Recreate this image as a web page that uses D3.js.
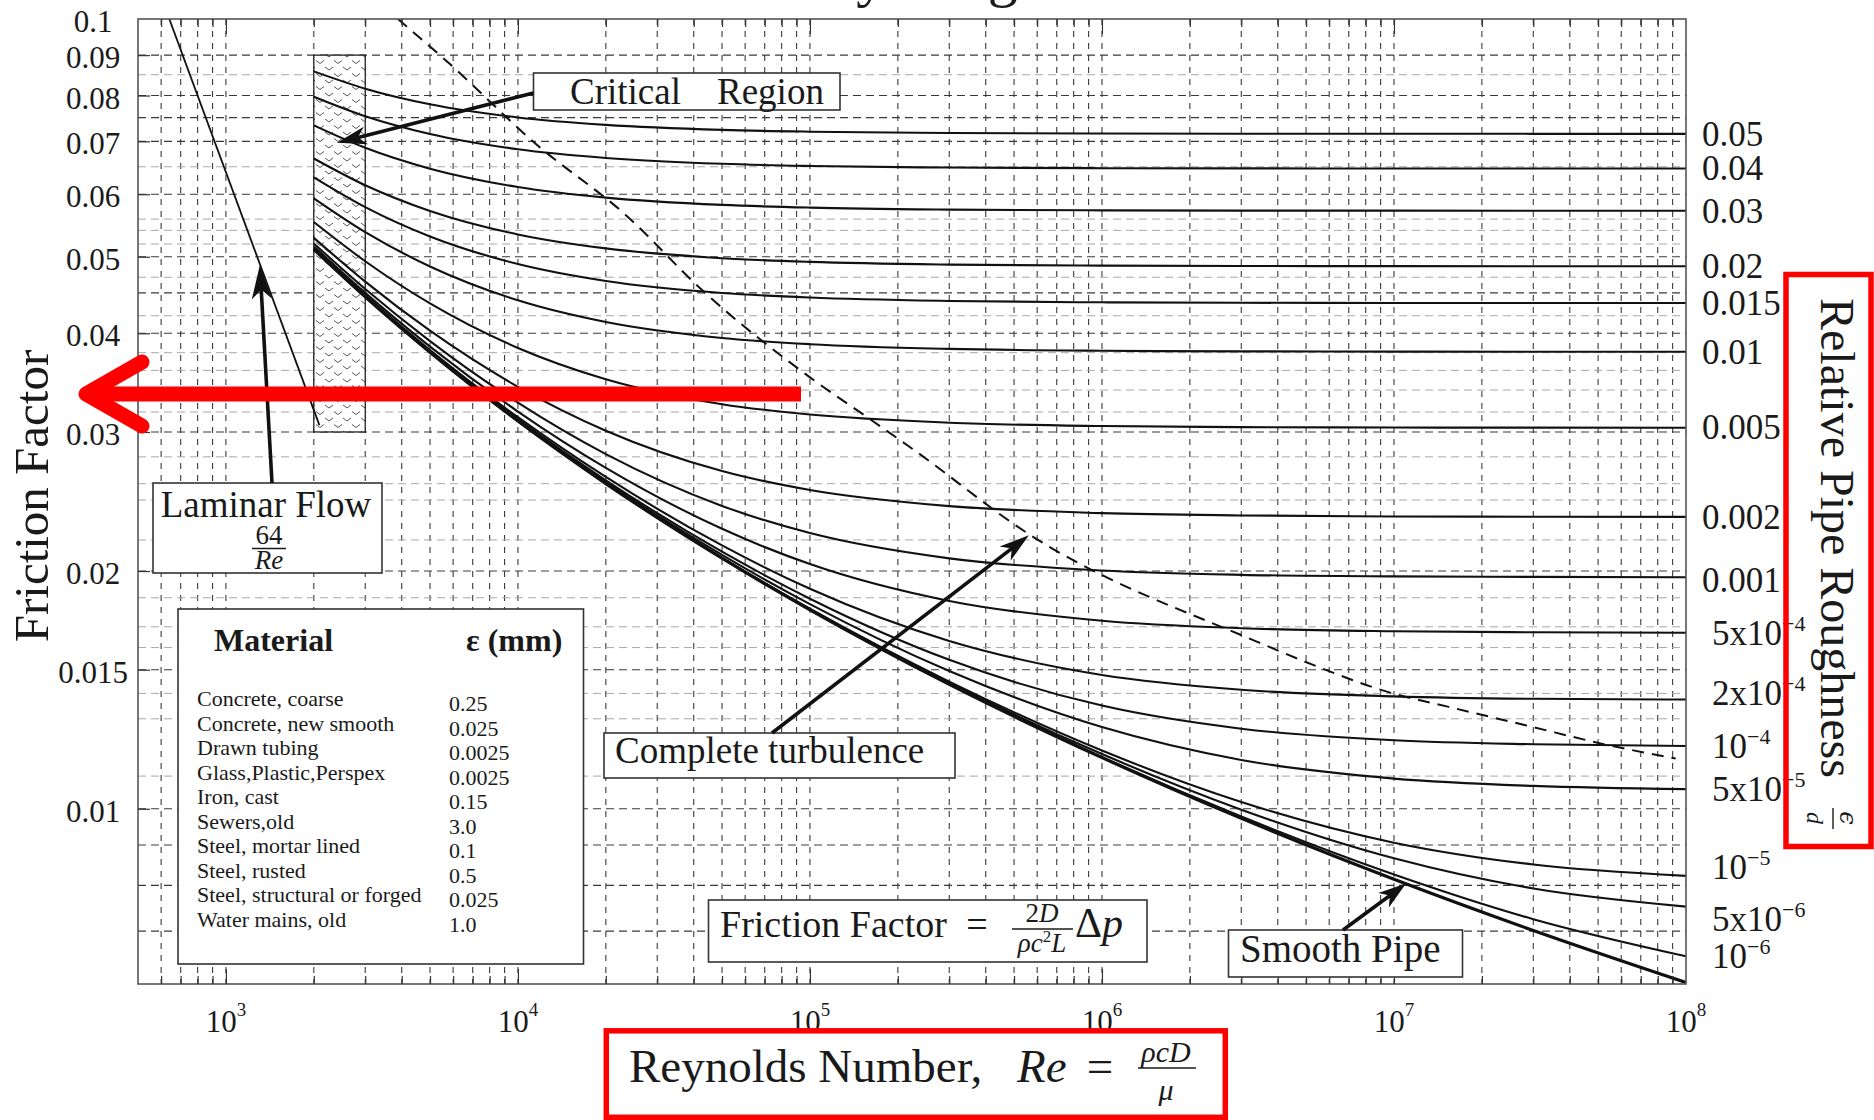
<!DOCTYPE html>
<html>
<head>
<meta charset="utf-8">
<title>Moody Diagram</title>
<script src="https://cdn.jsdelivr.net/npm/d3@7"></script>
<style>
  body { margin: 0; background: #fff; }
  svg text { font-family: "Liberation Serif", "Times New Roman", serif; fill: #1a1a1a; }
</style>
</head>
<body>
<svg id="chart" width="1874" height="1120"></svg>
<script>
"use strict";

const reynolds = [2000, 3000, 5000, 1e4, 2e4, 5e4, 1e5, 3e5, 1e6, 3e6, 1e7, 3e7, 1e8];

// Friction factor for each relative roughness (same order as reynolds)
const f_0_05  = [0.08584, 0.08162, 0.07799, 0.07504, 0.07344, 0.07238, 0.07200, 0.07172, 0.07161, 0.07157, 0.07156, 0.07155, 0.07155];
const f_0_04  = [0.07972, 0.07532, 0.07152, 0.06840, 0.06669, 0.06556, 0.06515, 0.06485, 0.06473, 0.06469, 0.06468, 0.06467, 0.06467];
const f_0_03  = [0.07334, 0.06870, 0.06464, 0.06127, 0.05940, 0.05816, 0.05770, 0.05737, 0.05724, 0.05720, 0.05719, 0.05718, 0.05718];
const f_0_02  = [0.06659, 0.06159, 0.05714, 0.05336, 0.05123, 0.04979, 0.04926, 0.04887, 0.04872, 0.04867, 0.04865, 0.04864, 0.04864];
const f_0_015 = [0.06302, 0.05778, 0.05304, 0.04895, 0.04659, 0.04499, 0.04439, 0.04395, 0.04378, 0.04372, 0.04370, 0.04369, 0.04369];
const f_0_01  = [0.05928, 0.05372, 0.04860, 0.04404, 0.04134, 0.03946, 0.03875, 0.03822, 0.03801, 0.03795, 0.03792, 0.03791, 0.03791];
const f_0_005 = [0.05533, 0.04935, 0.04364, 0.03833, 0.03499, 0.03253, 0.03156, 0.03082, 0.03052, 0.03043, 0.03039, 0.03038, 0.03037];
const f_0_002 = [0.05283, 0.04650, 0.04030, 0.03422, 0.03011, 0.02677, 0.02533, 0.02417, 0.02368, 0.02352, 0.02345, 0.02343, 0.02342];
const f_0_001 = [0.05197, 0.04551, 0.03910, 0.03267, 0.02812, 0.02418, 0.02234, 0.02075, 0.02003, 0.01978, 0.01969, 0.01966, 0.01964];
const f_5e_4  = [0.05154, 0.04500, 0.03848, 0.03184, 0.02702, 0.02262, 0.02041, 0.01833, 0.01730, 0.01693, 0.01678, 0.01673, 0.01671];
const f_2e_4  = [0.05127, 0.04470, 0.03810, 0.03132, 0.02631, 0.02155, 0.01899, 0.01631, 0.01477, 0.01415, 0.01388, 0.01378, 0.01375];
const f_1e_4  = [0.05118, 0.04459, 0.03797, 0.03115, 0.02606, 0.02116, 0.01845, 0.01544, 0.01351, 0.01263, 0.01221, 0.01207, 0.01201];
const f_5e_5  = [0.05114, 0.04454, 0.03791, 0.03106, 0.02594, 0.02096, 0.01816, 0.01494, 0.01269, 0.01153, 0.01092, 0.01069, 0.01059];
const f_1e_5  = [0.05110, 0.04450, 0.03786, 0.03099, 0.02584, 0.02080, 0.01792, 0.01449, 0.01185, 0.01020, 0.009059, 0.008500, 0.008224];
const f_5e_6  = [0.05110, 0.04450, 0.03785, 0.03098, 0.02583, 0.02078, 0.01789, 0.01443, 0.01173, 0.009974, 0.008657, 0.007927, 0.007519];
const f_1e_6  = [0.05109, 0.04449, 0.03785, 0.03097, 0.02582, 0.02076, 0.01787, 0.01439, 0.01163, 0.009776, 0.008258, 0.007249, 0.006506];
const f_smooth = [0.05109, 0.04449, 0.03785, 0.03097, 0.02581, 0.02076, 0.01786, 0.01437, 0.01161, 0.009724, 0.008142, 0.007013, 0.006026];

const frictionCurves = [f_0_05, f_0_04, f_0_03, f_0_02, f_0_015, f_0_01, f_0_005, f_0_002, f_0_001,
  f_5e_4, f_2e_4, f_1e_4, f_5e_5, f_1e_5, f_5e_6, f_1e_6, f_smooth];

// Right-hand roughness labels and where they sit (friction factor units)
const roughLabelBase = ["0.05", "0.04", "0.03", "0.02", "0.015", "0.01", "0.005", "0.002", "0.001",
  "5x10", "2x10", "10", "5x10", "10", "5x10", "10"];
const roughLabelExp = ["", "", "", "", "", "", "", "", "", "\u22124", "\u22124", "\u22124", "\u22125", "\u22125", "\u22126", "\u22126"];
const roughLabelF = [0.0716, 0.0647, 0.0572, 0.0486, 0.0437, 0.0379, 0.0304, 0.0234, 0.0195,
  0.0167, 0.0140, 0.0120, 0.0106, 0.00843, 0.00726, 0.00651];

// Laminar line 64/Re, critical zone, complete-turbulence boundary
const laminarRe = [640, 2090];
const laminarF = [0.1, 0.0306];
const criticalRe = [2000, 3000];
const criticalF = [0.03, 0.09];
const turbRe = [3880, 5690, 11500, 23240, 42900, 99800, 163500, 224000, 559000, 3.42e6, 5.31e6, 9.64e6, 1.54e7, 2.89e7, 5.41e7, 9.22e7];
const turbF = [0.1, 0.0885, 0.0695, 0.0566, 0.0453, 0.0352, 0.0310, 0.02857, 0.0223, 0.01626, 0.0152, 0.01404, 0.01346, 0.01273, 0.01204, 0.01158];

// Axis ticks
const xMajor = [1e3, 1e4, 1e5, 1e6, 1e7, 1e8];
const xMajorExp = ["3", "4", "5", "6", "7", "8"];
const yTicks = [0.1, 0.09, 0.08, 0.07, 0.06, 0.05, 0.04, 0.03, 0.02, 0.015, 0.01];
const yTickLabels = ["0.1", "0.09", "0.08", "0.07", "0.06", "0.05", "0.04", "0.03", "0.02", "0.015", "0.01"];
const darkGridF = [0.09, 0.08, 0.075, 0.07, 0.06, 0.05, 0.045, 0.04, 0.03, 0.02, 0.015, 0.01, 0.009, 0.008, 0.007];
const lightGridF = [0.085, 0.065, 0.0558, 0.054, 0.0519, 0.0471, 0.0421, 0.0378, 0.0359, 0.0339, 0.0318,
  0.0279, 0.0258, 0.0246, 0.0219, 0.0185, 0.017, 0.016, 0.014, 0.013, 0.011];

// Material table
const materials = ["Concrete, coarse", "Concrete, new smooth", "Drawn tubing", "Glass,Plastic,Perspex", "Iron, cast",
  "Sewers,old", "Steel, mortar lined", "Steel, rusted", "Steel, structural or forged", "Water mains, old"];
const materialEps = ["0.25", "0.025", "0.0025", "0.0025", "0.15", "3.0", "0.1", "0.5", "0.025", "1.0"];

// Layout
const plot = { left: 138, right: 1686, top: 19, bottom: 984 };

const x = d3.scaleLog().domain([500, 1e8]).range([plot.left, plot.right]);
const y = d3.scaleLog().domain([0.006, 0.1]).range([plot.bottom, plot.top]);

const svg = d3.select("#chart");
const defs = svg.append("defs");

defs.append("clipPath").attr("id", "plotClip")
  .append("rect")
  .attr("x", plot.left).attr("y", plot.top)
  .attr("width", plot.right - plot.left).attr("height", plot.bottom - plot.top);

// little chevron hatch of the critical region
const hatch = defs.append("pattern").attr("id", "hatch")
  .attr("patternUnits", "userSpaceOnUse").attr("width", 18).attr("height", 13);
hatch.append("path").attr("d", "M1,2 L5,5 L9,2 M10,8.5 L14,11.5 L18,8.5")
  .attr("fill", "none").attr("stroke", "#555").attr("stroke-width", 1);

svg.append("rect").attr("width", 1874).attr("height", 1120).attr("fill", "#fff");

// title, mostly cut off by the top edge
svg.append("text").attr("x", 912).attr("y", -5).attr("text-anchor", "middle")
  .attr("font-size", 60).text("Moody Diagram");

// Grid
const grid = svg.append("g").attr("clip-path", "url(#plotClip)");
const xGrid = x.ticks().filter(v => v > 501 && v < 0.99e8);
grid.selectAll(".vgrid").data(xGrid).enter().append("line")
  .attr("x1", d => x(d)).attr("x2", d => x(d))
  .attr("y1", plot.top).attr("y2", plot.bottom)
  .attr("stroke", "#3a3a3a").attr("stroke-width", 1.1).attr("stroke-dasharray", "6,6");
grid.selectAll(".lgrid").data(lightGridF).enter().append("line")
  .attr("x1", plot.left).attr("x2", plot.right)
  .attr("y1", d => y(d)).attr("y2", d => y(d))
  .attr("stroke", "#a8a8a8").attr("stroke-width", 1).attr("stroke-dasharray", "8,5");
grid.selectAll(".dgrid").data(darkGridF).enter().append("line")
  .attr("x1", plot.left).attr("x2", plot.right)
  .attr("y1", d => y(d)).attr("y2", d => y(d))
  .attr("stroke", "#3a3a3a").attr("stroke-width", 1.1).attr("stroke-dasharray", "8,5");

// Critical region
grid.append("rect")
  .attr("x", x(criticalRe[0])).attr("y", y(criticalF[1]))
  .attr("width", x(criticalRe[1]) - x(criticalRe[0]))
  .attr("height", y(criticalF[0]) - y(criticalF[1]))
  .attr("fill", "#fff");
grid.append("rect")
  .attr("x", x(criticalRe[0])).attr("y", y(criticalF[1]))
  .attr("width", x(criticalRe[1]) - x(criticalRe[0]))
  .attr("height", y(criticalF[0]) - y(criticalF[1]))
  .attr("fill", "url(#hatch)").attr("stroke", "#222").attr("stroke-width", 1.3);

// Curves
const line = d3.line().x(d => x(d[0])).y(d => y(d[1])).curve(d3.curveMonotoneX);
const curves = svg.append("g").attr("clip-path", "url(#plotClip)");
frictionCurves.forEach((vals, i) => {
  curves.append("path")
    .datum(reynolds.map((re, j) => [re, vals[j]]))
    .attr("d", line)
    .attr("fill", "none")
    .attr("stroke", "#111")
    .attr("stroke-width", i === frictionCurves.length - 1 ? 3.2 : 2.1);
});

curves.append("path")
  .datum(laminarRe.map((re, j) => [re, laminarF[j]]))
  .attr("d", d3.line().x(d => x(d[0])).y(d => y(d[1])))
  .attr("fill", "none").attr("stroke", "#111").attr("stroke-width", 1.8);

curves.append("path")
  .datum(turbRe.map((re, j) => [re, turbF[j]]))
  .attr("d", line)
  .attr("fill", "none").attr("stroke", "#111").attr("stroke-width", 2)
  .attr("stroke-dasharray", "12,8");

// Frame and ticks
svg.append("rect")
  .attr("x", plot.left).attr("y", plot.top)
  .attr("width", plot.right - plot.left).attr("height", plot.bottom - plot.top)
  .attr("fill", "none").attr("stroke", "#555").attr("stroke-width", 1.6);

const tickStyle = g => {
  g.select(".domain").remove();
  g.selectAll("line").attr("stroke", "#333").attr("stroke-width", 1.2);
  g.selectAll("text").remove();
};
const xMinor = x.ticks().filter(v => v > 501 && v < 0.99e8 && !xMajor.some(m => Math.abs(m - v) < 1e-6 * m));
svg.append("g").attr("transform", `translate(0,${plot.bottom})`)
  .call(d3.axisBottom(x).tickValues(xMajor.slice(0, 5)).tickSize(-15)).call(tickStyle);
svg.append("g").attr("transform", `translate(0,${plot.bottom})`)
  .call(d3.axisBottom(x).tickValues(xMinor).tickSize(-8)).call(tickStyle);
svg.append("g").attr("transform", `translate(0,${plot.top})`)
  .call(d3.axisTop(x).tickValues(xMajor.slice(0, 5)).tickSize(-15)).call(tickStyle);
svg.append("g").attr("transform", `translate(0,${plot.top})`)
  .call(d3.axisTop(x).tickValues(xMinor).tickSize(-8)).call(tickStyle);
svg.append("g").attr("transform", `translate(${plot.left},0)`)
  .call(d3.axisLeft(y).tickValues(yTicks.slice(1)).tickSize(-12)).call(tickStyle);

// Tick labels
svg.append("g").selectAll("text").data(yTicks).enter().append("text")
  .attr("x", 93).attr("y", d => y(d) + 13)
  .attr("text-anchor", "middle").attr("font-size", 31)
  .text((d, i) => yTickLabels[i]);

xMajor.forEach((v, i) => {
  const t = svg.append("text").attr("x", x(v)).attr("y", 1032)
    .attr("text-anchor", "middle").attr("font-size", 31);
  t.append("tspan").text("10");
  t.append("tspan").attr("font-size", 19).attr("dy", -16).text(xMajorExp[i]);
});

roughLabelF.forEach((v, i) => {
  const t = svg.append("text")
    .attr("x", roughLabelExp[i] ? 1712 : 1702)
    .attr("y", y(v) + 12)
    .attr("font-size", 35);
  t.append("tspan").text(roughLabelBase[i]);
  if (roughLabelExp[i]) t.append("tspan").attr("font-size", 22).attr("dy", -14).text(roughLabelExp[i]);
});

// Axis titles
svg.append("text")
  .attr("transform", "translate(48,496) rotate(-90)")
  .attr("text-anchor", "middle").attr("font-size", 49)
  .text("Friction Factor");

const rTitle = svg.append("g").attr("transform", "translate(1821,298) rotate(90)");
rTitle.append("text").attr("x", 0).attr("y", 0).attr("font-size", 48).text("Relative Pipe Roughness");
rTitle.append("text").attr("x", 520).attr("y", -19).attr("text-anchor", "middle")
  .attr("font-size", 24).attr("font-style", "italic")
  .style("font-family", "'DejaVu Serif', serif").text("\u03f5");
rTitle.append("line").attr("x1", 510).attr("x2", 531).attr("y1", -12).attr("y2", -12)
  .attr("stroke", "#1a1a1a").attr("stroke-width", 1.4);
rTitle.append("text").attr("x", 520).attr("y", 14).attr("text-anchor", "middle")
  .attr("font-size", 24).attr("font-style", "italic").text("d");

svg.append("text").attr("x", 629).attr("y", 1082).attr("font-size", 47).text("Reynolds Number,");
svg.append("text").attr("x", 1017).attr("y", 1082).attr("font-size", 47).attr("font-style", "italic").text("Re");
svg.append("text").attr("x", 1100).attr("y", 1082).attr("font-size", 47).attr("text-anchor", "middle").text("=");
svg.append("text").attr("x", 1166).attr("y", 1062).attr("font-size", 30).attr("font-style", "italic")
  .attr("text-anchor", "middle").text("\u03c1cD");
svg.append("line").attr("x1", 1138).attr("x2", 1196).attr("y1", 1068).attr("y2", 1068)
  .attr("stroke", "#1a1a1a").attr("stroke-width", 1.6);
svg.append("text").attr("x", 1166).attr("y", 1100).attr("font-size", 30).attr("font-style", "italic")
  .attr("text-anchor", "middle").text("\u03bc");

// Annotation boxes
const box = (x0, y0, x1, y1) => svg.append("rect")
  .attr("x", x0).attr("y", y0).attr("width", x1 - x0).attr("height", y1 - y0)
  .attr("fill", "#fff").attr("stroke", "#333").attr("stroke-width", 1.6);

function arrowHead(x1, y1, x2, y2, len, half) {
  const a = Math.atan2(y2 - y1, x2 - x1);
  const ux = Math.cos(a), uy = Math.sin(a);
  const bx = x2 - ux * len, by = y2 - uy * len;
  const nx = x2 - ux * len * 0.72, ny = y2 - uy * len * 0.72;
  return `M${x2},${y2}L${bx - uy * half},${by + ux * half}L${nx},${ny}L${bx + uy * half},${by - ux * half}Z`;
}
function arrow(x1, y1, x2, y2, len, half) {
  const a = Math.atan2(y2 - y1, x2 - x1);
  const ex = x2 - Math.cos(a) * len * 0.7, ey = y2 - Math.sin(a) * len * 0.7;
  svg.append("line").attr("x1", x1).attr("y1", y1).attr("x2", ex).attr("y2", ey)
    .attr("stroke", "#111").attr("stroke-width", 3.6);
  svg.append("path").attr("d", arrowHead(x1, y1, x2, y2, len, half)).attr("fill", "#111");
}

// Critical Region
box(533.5, 73, 840, 110);
svg.append("text").attr("x", 570).attr("y", 104).attr("font-size", 37).text("Critical");
svg.append("text").attr("x", 717).attr("y", 104).attr("font-size", 37).text("Region");
arrow(533.5, 93, x(2399), y(0.0697), 30, 9);

// Laminar Flow
box(153, 483, 382, 573);
svg.append("text").attr("x", 266).attr("y", 517).attr("font-size", 37).attr("text-anchor", "middle").text("Laminar Flow");
svg.append("text").attr("x", 269).attr("y", 544).attr("font-size", 27).attr("text-anchor", "middle").text("64");
svg.append("line").attr("x1", 252).attr("x2", 286).attr("y1", 548.5).attr("y2", 548.5)
  .attr("stroke", "#1a1a1a").attr("stroke-width", 1.3);
svg.append("text").attr("x", 269).attr("y", 569).attr("font-size", 27).attr("font-style", "italic")
  .attr("text-anchor", "middle").text("Re");
arrow(272, 483, x(1307), y(0.0488), 34, 10);

// Material table
box(178, 609, 583.5, 964);
svg.append("text").attr("x", 214).attr("y", 651).attr("font-size", 32).attr("font-weight", "bold").text("Material");
svg.append("text").attr("x", 466).attr("y", 651).attr("font-size", 32).attr("font-weight", "bold").text("\u03b5 (mm)");
materials.forEach((m, i) => {
  svg.append("text").attr("x", 197).attr("y", 706 + i * 24.55).attr("font-size", 22).text(m);
  svg.append("text").attr("x", 449).attr("y", 711 + i * 24.55).attr("font-size", 22).text(materialEps[i]);
});

// Complete turbulence
box(604, 733, 955, 778);
svg.append("text").attr("x", 615).attr("y", 763).attr("font-size", 37).text("Complete turbulence");
arrow(772, 733, x(5.62e5), y(0.0222), 30, 9);

// Friction factor definition
box(708.5, 900, 1147, 962);
svg.append("text").attr("x", 720).attr("y", 937).attr("font-size", 38).text("Friction Factor");
svg.append("text").attr("x", 977).attr("y", 937).attr("font-size", 38).attr("text-anchor", "middle").text("=");
const num = svg.append("text").attr("x", 1042).attr("y", 922).attr("font-size", 27).attr("text-anchor", "middle");
num.append("tspan").text("2");
num.append("tspan").attr("font-style", "italic").text("D");
svg.append("line").attr("x1", 1012).attr("x2", 1073).attr("y1", 929).attr("y2", 929)
  .attr("stroke", "#1a1a1a").attr("stroke-width", 1.4);
const den = svg.append("text").attr("x", 1042).attr("y", 952).attr("font-size", 27).attr("text-anchor", "middle")
  .attr("font-style", "italic");
den.append("tspan").text("\u03c1c");
den.append("tspan").attr("font-size", 17).attr("dy", -10).attr("font-style", "normal").text("2");
den.append("tspan").attr("dy", 10).text("L");
const dp = svg.append("text").attr("x", 1075).attr("y", 937).attr("font-size", 42);
dp.append("tspan").text("\u0394");
dp.append("tspan").attr("font-style", "italic").text("p");

// Smooth Pipe
box(1228.5, 930, 1462.5, 977);
svg.append("text").attr("x", 1240).attr("y", 962).attr("font-size", 39).text("Smooth Pipe");
arrow(1343, 930, x(1.1e7), y(0.00804), 28, 9);

// Red overlay marks
svg.append("line").attr("x1", 86).attr("y1", 394).attr("x2", 801).attr("y2", 394)
  .attr("stroke", "#ff0000").attr("stroke-width", 15);
svg.append("polyline").attr("points", "142,362 86,394 142,426")
  .attr("fill", "none").attr("stroke", "#ff0000").attr("stroke-width", 15)
  .attr("stroke-linejoin", "round").attr("stroke-linecap", "round");
svg.append("rect").attr("x", 606.3).attr("y", 1030.8).attr("width", 619).attr("height", 86.5)
  .attr("fill", "none").attr("stroke", "#ff0000").attr("stroke-width", 5.5);
svg.append("rect").attr("x", 1786).attr("y", 274.5).attr("width", 85).attr("height", 572)
  .attr("fill", "none").attr("stroke", "#ff0000").attr("stroke-width", 5.5);
</script>
</body>
</html>
